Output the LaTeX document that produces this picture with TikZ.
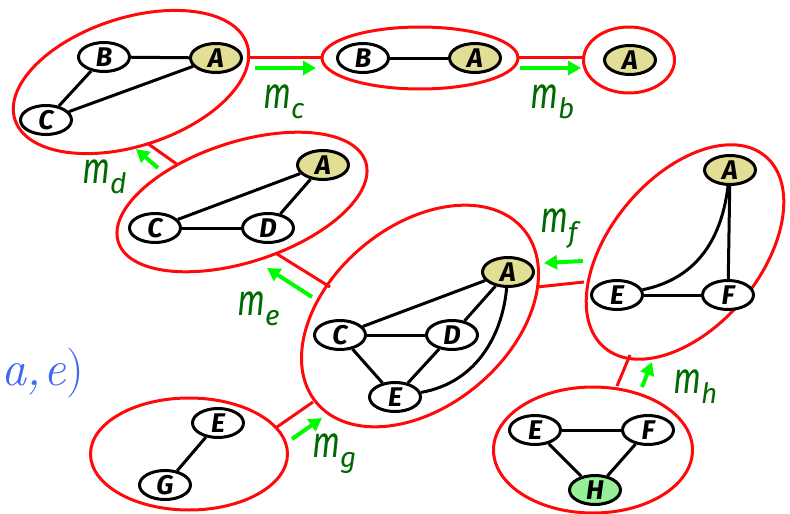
\documentclass[tikz,border=0pt]{standalone}
\usepackage{fontspec}
\newfontfamily\nf{Fira Sans}
\usetikzlibrary{shapes.geometric,arrows.meta}
\definecolor{cred}{RGB}{255,10,10}
\definecolor{msggreen}{RGB}{0,250,0}
\definecolor{lblgreen}{RGB}{0,105,0}
\definecolor{afill}{RGB}{226,222,150}
\definecolor{hfill}{RGB}{150,240,150}
\definecolor{mblue}{RGB}{60,105,240}
\newcommand{\mlab}[1]{\scalebox{0.75}[1]{m}\raisebox{-10pt}{\fontsize{28}{28}\selectfont #1}}
\begin{document}
\begin{tikzpicture}[x=1pt,y=-1pt,
  cl/.style={draw=cred, line width=3pt, ellipse, inner sep=0pt},
  vx/.style={draw=black, line width=3pt, ellipse, inner sep=0pt, minimum width=51, minimum height=29, fill=white,
     font=\nf\bfseries\itshape\fontsize{27}{27}\selectfont},
  av/.style={vx, fill=afill},
  hv/.style={vx, fill=hfill},
  ed/.style={black, line width=3pt},
  lk/.style={cred, line width=3pt},
  msg/.style={msggreen, line width=4pt, -{Triangle[length=13pt,width=14pt]}},
  lbl/.style={text=lblgreen, inner sep=0pt, anchor=base west, font=\nf\itshape\fontsize{44}{44}\selectfont}]
\useasboundingbox (0,0) rectangle (790,514);

% clusters
\node[cl, minimum width=244, minimum height=128, rotate=18] (K1) at (131,82) {};
\node[cl, minimum width=196, minimum height=62] (K2) at (420,58) {};
\node[cl, minimum width=91, minimum height=66] (K3) at (629,60) {};
\node[cl, minimum width=260, minimum height=120, rotate=18] (K4) at (242,202) {};
\node[cl, minimum width=270, minimum height=180, rotate=40] (K5) at (420,316) {};
\node[cl, minimum width=250, minimum height=150, rotate=50] (K6) at (685,252) {};
\node[cl, minimum width=197, minimum height=112] (K7) at (189,454) {};
\node[cl, minimum width=199, minimum height=126] (K8) at (593,450) {};

% links between clusters
\coordinate (l12a) at (247,57); \coordinate (l12b) at (322,57);
\coordinate (l23a) at (518,57); \coordinate (l23b) at (584,57);
\coordinate (l14a) at (147,143); \coordinate (l14b) at (178,165);
\coordinate (l45a) at (277,254); \coordinate (l45b) at (330,287);
\coordinate (l56a) at (537,287); \coordinate (l56b) at (584,282);
\coordinate (l57a) at (277,427); \coordinate (l57b) at (313,402);
\coordinate (l68a) at (630,355); \coordinate (l68b) at (617,386);
\draw[lk] (l12a) -- (l12b);
\draw[lk] (l23a) -- (l23b);
\draw[lk] (l14a) -- (l14b);
\draw[lk] (l45a) -- (l45b);
\draw[lk] (l56a) -- (l56b);
\draw[lk] (l57a) -- (l57b);
\draw[lk] (l68a) -- (l68b);

% vertices
\node[vx] (B1) at (104,57) {B};
\node[av] (A1) at (216,58) {A};
\node[vx] (C1) at (46,120) {C};
\node[vx] (B2) at (363,58) {B};
\node[av] (A2) at (475,58) {A};
\node[av] (A3) at (630,60) {A};
\node[av] (A4) at (323,165) {A};
\node[vx] (C4) at (155,228) {C};
\node[vx] (D4) at (268,228) {D};
\node[av] (A5) at (508,272) {A};
\node[vx] (C5) at (340,335) {C};
\node[vx] (D5) at (452,335) {D};
\node[vx] (E5) at (395,397) {E};
\node[av] (A6) at (730,170) {A};
\node[vx] (E6) at (617,295) {E};
\node[vx] (F6) at (728,295) {F};
\node[vx] (E7) at (218,423) {E};
\node[vx] (G7) at (165,485) {G};
\node[vx] (E8) at (535,430) {E};
\node[vx] (F8) at (648,430) {F};
\node[hv] (H8) at (595,490) {H};

% edges
\draw[ed] (B1) -- (A1); \draw[ed] (B1) -- (C1); \draw[ed] (C1) -- (A1);
\draw[ed] (B2) -- (A2);
\draw[ed] (C4) -- (A4); \draw[ed] (C4) -- (D4); \draw[ed] (D4) -- (A4);
\draw[ed] (C5) -- (A5); \draw[ed] (C5) -- (D5); \draw[ed] (D5) -- (A5);
\draw[ed] (C5) -- (E5); \draw[ed] (D5) -- (E5);
\draw[ed] (E5) .. controls (480,382) and (503,330) .. (A5);
\draw[ed] (E6) -- (F6); \draw[ed] (F6) -- (A6);
\draw[ed] (E6) .. controls (700,278) and (722,235) .. (A6);
\draw[ed] (E7) -- (G7);
\draw[ed] (E8) -- (F8); \draw[ed] (E8) -- (H8); \draw[ed] (F8) -- (H8);

% messages
\coordinate (mca) at (255,68); \coordinate (mcb) at (316,68);
\coordinate (mba) at (520,68); \coordinate (mbb) at (581,68);
\coordinate (mda) at (158,168); \coordinate (mdb) at (136,149);
\coordinate (mea) at (312,297); \coordinate (meb) at (267,268);
\coordinate (mfa) at (583,261); \coordinate (mfb) at (544,263);
\coordinate (mga) at (292,439); \coordinate (mgb) at (322,418);
\coordinate (mha) at (642,387); \coordinate (mhb) at (652,362);
\draw[msg] (mca) -- (mcb);
\draw[msg] (mba) -- (mbb);
\draw[msg] (mda) -- (mdb);
\draw[msg] (mea) -- (meb);
\draw[msg] (mfa) -- (mfb);
\draw[msg] (mga) -- (mgb);
\draw[msg] (mha) -- (mhb);

\node[lbl] (Lc) at (263,108) {\mlab{c}};
\node[lbl] (Lb) at (530,108) {\mlab{b}};
\node[lbl] (Ld) at (82,183) {\mlab{d}};
\node[lbl] (Le) at (237,315) {\mlab{e}};
\node[lbl] (Lf) at (540,232) {\mlab{f}};
\node[lbl] (Lg) at (312,457) {\mlab{g}};
\node[lbl] (Lh) at (673,393) {\mlab{h}};

\node[text=mblue, inner sep=0pt, anchor=base west, font=\fontsize{50}{50}\selectfont] (ae) at (1,385) {\itshape a,\kern2pt e\/\upshape)};
\end{tikzpicture}
\end{document}
